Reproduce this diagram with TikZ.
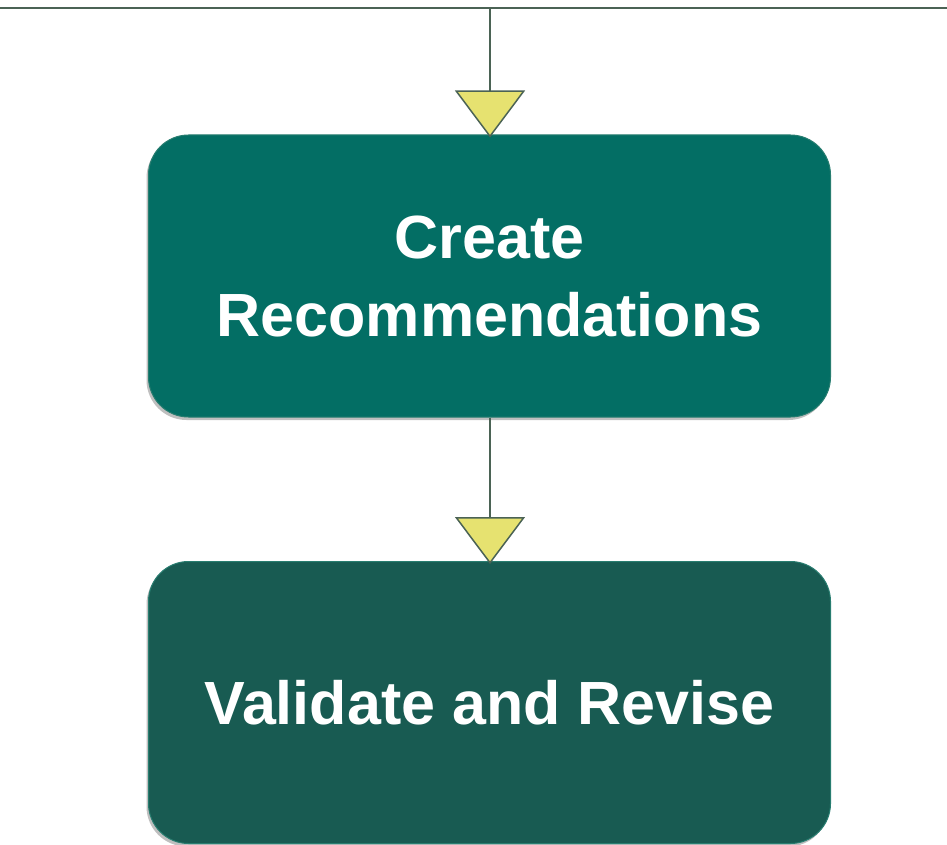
\documentclass[tikz,border=0pt]{standalone}
\usepackage{fontspec}
\setmainfont{Liberation Sans}
\usetikzlibrary{arrows.meta,shadows}
\definecolor{boxone}{RGB}{3,110,100}
\definecolor{boxtwo}{RGB}{24,91,82}
\definecolor{boxedge}{RGB}{40,125,112}
\definecolor{linecol}{RGB}{75,99,85}
\definecolor{tipfill}{RGB}{230,226,112}
\tikzset{
  stepbox/.style={rectangle, rounded corners=40pt, minimum width=682pt, minimum height=282pt,
    draw=boxedge, line width=1pt, text=white, align=center,
    font=\fontsize{61}{78}\selectfont\bfseries,
    drop shadow={shadow xshift=-2pt, shadow yshift=-3pt, opacity=0.25, fill=black}},
  flow/.style={draw=linecol, line width=2pt, shorten >=-3pt,
    -{Triangle[width=70pt,length=47pt,fill=tipfill,line width=1.5pt]}},
  topline/.style={draw=linecol, line width=2pt}
}
\begin{document}
\begin{tikzpicture}[x=1pt,y=-1pt]
\useasboundingbox (0,0) rectangle (947,845);
\coordinate (tl) at (0,8);
\coordinate (tr) at (947,8);
\coordinate (tm) at (490,8);
\node[stepbox, fill=boxone] (create) at (489.5,276) {Create\\Recommendations};
\node[stepbox, fill=boxtwo] (validate) at (489.5,702.5) {Validate and Revise};
\draw[topline] (tl) -- (tr);
\draw[flow] (tm) -- (create.north -| tm);
\draw[flow] (create.south -| tm) -- (validate.north -| tm);
\end{tikzpicture}
\end{document}
